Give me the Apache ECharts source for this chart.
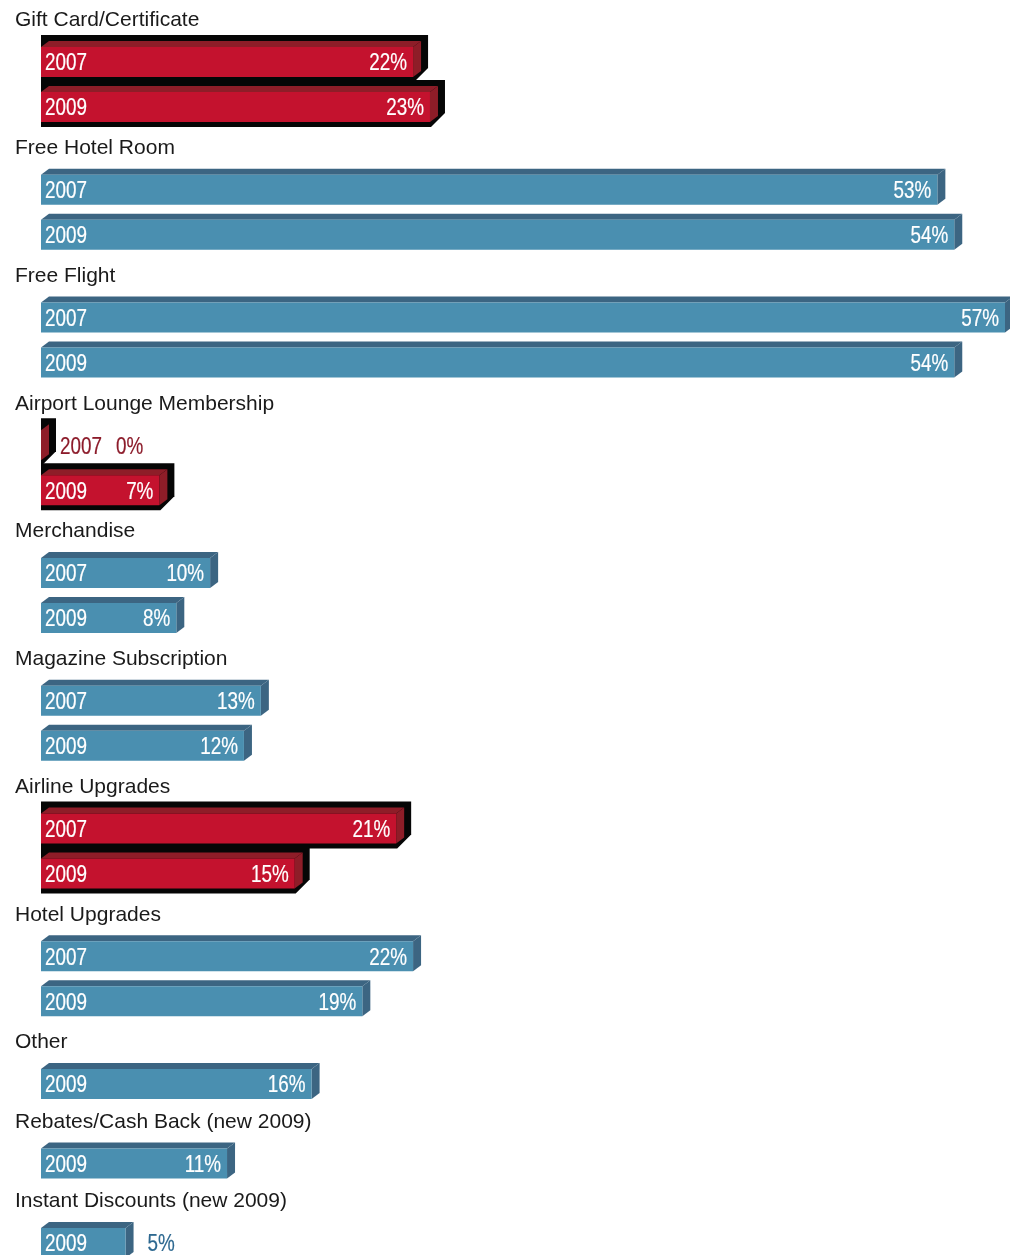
<!DOCTYPE html>
<html>
<head>
<meta charset="utf-8">
<script src="https://cdn.jsdelivr.net/npm/echarts@6/dist/echarts.min.js"></script>
<style>
  html, body { margin: 0; padding: 0; background: #ffffff; overflow: hidden; }
  /* canvas runs a little past the window so the last bar is cut at the edge */
  #chart { width: 1010px; height: 1285px; }
</style>
</head>
<body>
<div id="chart"></div>
<script>
// Reward types and the share of respondents choosing each one, 2007 vs 2009
const categories = [
  'Gift Card/Certificate',
  'Free Hotel Room',
  'Free Flight',
  'Airport Lounge Membership',
  'Merchandise',
  'Magazine Subscription',
  'Airline Upgrades',
  'Hotel Upgrades',
  'Other',
  'Rebates/Cash Back (new 2009)',
  'Instant Discounts (new 2009)'
];
const yearLabels = ['2007', '2009'];
const values2007 = [22, 53, 57, 0, 10, 13, 21, 22, null, null, null];
const values2009 = [23, 54, 54, 7, 8, 12, 15, 19, 16, 11, 5];
// Categories drawn in red with a black outline
const highlighted = ['Gift Card/Certificate', 'Airport Lounge Membership', 'Airline Upgrades'];
const axisMax = 57;

// Layout
const HEADER_Y0 = 19;        // centre of first heading
const FIRST_BAR = 43;        // heading centre -> first bar centre
const BAND = 45;             // row pitch of bars inside a group
const GROUP_PITCH = { 2: 127.75, 1: 79.5 };
const PLOT_LEFT = 41, PLOT_RIGHT = 5;
const FACE_H = 30, DX = 8, DY = 6;

const palette = {
  blue: { front: '#4a8fb0', dark: '#3c6582', outside: '#2d6890' },
  red:  { front: '#c4122e', dark: '#8e1d28', outside: '#8c1b2a' }
};
// Condensed bar labels: regular sans squeezed horizontally
const LABEL_FONT = '23px "Liberation Sans", Arial, sans-serif';
const LABEL_SQUEEZE = 0.82;
const HEAD_FONT = '21px "Liberation Sans", Arial, sans-serif';

function label(text, x, y, align, fill) {
  return {
    type: 'text', x: x, y: y, scaleX: LABEL_SQUEEZE,
    style: {
      text: text, x: 0, y: 0, align: align, verticalAlign: 'middle',
      font: LABEL_FONT, fill: fill, stroke: fill, lineWidth: 0.2
    }
  };
}

const grids = [], xAxes = [], yAxes = [], series = [], graphics = [];
let headY = HEADER_Y0;

categories.forEach((cat, gi) => {
  const rows = [];
  [values2007[gi], values2009[gi]].forEach((v, k) => {
    if (v !== null && v !== undefined) rows.push({ year: yearLabels[k], value: v });
  });
  const n = rows.length;
  const red = highlighted.includes(cat);
  const col = red ? palette.red : palette.blue;

  graphics.push({
    type: 'text', left: 15, top: headY - 9,
    style: { text: cat, font: HEAD_FONT, fill: '#1a1a1a' }
  });

  grids.push({ left: PLOT_LEFT, right: PLOT_RIGHT, top: headY + FIRST_BAR - BAND / 2, height: n * BAND, containLabel: false });
  xAxes.push({ type: 'value', gridIndex: gi, min: 0, max: axisMax, show: false });
  yAxes.push({ type: 'category', gridIndex: gi, inverse: true, show: false, data: rows.map(r => r.year) });

  series.push({
    type: 'custom',
    xAxisIndex: gi, yAxisIndex: gi,
    clip: false,
    data: rows.map((r, i) => [r.value, i, r.year]),
    renderItem: (params, api) => {
      const v = api.value(0), idx = api.value(1);
      const year = rows[idx].year;
      const p0 = api.coord([0, idx]);
      const p1 = api.coord([v, idx]);
      const x0 = p0[0], x1 = p1[0], yc = p0[1];
      const yf = yc - FACE_H / 2, yb = yc + FACE_H / 2;
      const w = x1 - x0;
      const kids = [];
      if (red) {
        kids.push({ type: 'polygon', shape: { points: [
          [x0, yf - DY - 6], [x1 + DX + 7, yf - DY - 6], [x1 + DX + 7, yb - 9], [x1 + 1, yb + 5], [x0, yb + 5]
        ] }, style: { fill: '#060606' } });
      }
      kids.push({ type: 'polygon', shape: { points: [[x0, yf], [x0 + DX, yf - DY], [x1 + DX, yf - DY], [x1, yf]] }, style: { fill: col.dark } });
      kids.push({ type: 'polygon', shape: { points: [[x1, yf], [x1 + DX, yf - DY], [x1 + DX, yb - DY], [x1, yb]] }, style: { fill: col.dark } });
      if (w > 0) kids.push({ type: 'rect', shape: { x: x0, y: yf, width: w, height: FACE_H }, style: { fill: col.front } });

      const yearInside = w > 55;
      const valueInside = w > 100;
      const ty = yc + 2;
      const outX = x1 + DX + 11;
      kids.push(yearInside
        ? label(year, x0 + 4, ty, 'left', '#ffffff')
        : label(year, outX, ty, 'left', col.outside));
      const valText = v + '%';
      if (valueInside) {
        kids.push(label(valText, x1 - 6, ty, 'right', '#ffffff'));
      } else {
        const vx = yearInside ? x1 + DX + 14 : outX + 56;
        kids.push(label(valText, vx, ty, 'left', col.outside));
      }
      return { type: 'group', children: kids };
    }
  });

  headY += GROUP_PITCH[n];
});

const chart = echarts.init(document.getElementById('chart'), null, { renderer: 'canvas' });
chart.setOption({
  animation: false,
  backgroundColor: '#ffffff',
  grid: grids,
  xAxis: xAxes,
  yAxis: yAxes,
  series: series,
  graphic: graphics
});
</script>
</body>
</html>
